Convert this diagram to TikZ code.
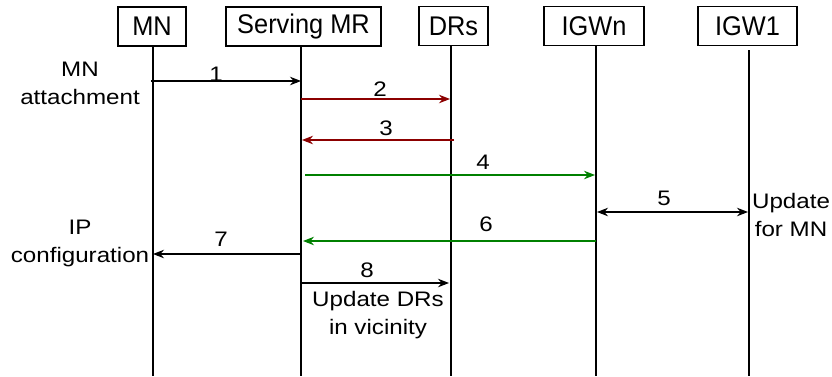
\documentclass[tikz,border=0pt]{standalone}
\usepackage{fontspec}
\setmainfont{Liberation Sans}
\newfontfamily\boxfont[FakeStretch=0.94]{Liberation Sans}
\newfontfamily\lblfont[FakeStretch=1.15]{Liberation Sans}
\usetikzlibrary{arrows.meta}
\definecolor{dred}{RGB}{140,0,0}
\definecolor{dgreen}{RGB}{0,128,0}
\begin{document}
\begin{tikzpicture}[x=1pt,y=-1pt,
  actor/.style={draw, line width=1.3pt, minimum height=39pt, inner sep=0pt,
    font=\boxfont\fontsize{27}{28}\selectfont},
  life/.style={line width=1.3pt},
  msg/.style={line width=1.1pt, -{Stealth[length=11pt,width=8.5pt]}},
  dmsg/.style={line width=1.1pt, {Stealth[length=11pt,width=8.5pt]}-{Stealth[length=11pt,width=8.5pt]}},
  lbl/.style={font=\lblfont\fontsize{21}{28}\selectfont, align=center, inner sep=0pt},
  num/.style={font=\lblfont\fontsize{21}{28}\selectfont, inner sep=0pt},
]
\useasboundingbox (0,0) rectangle (832,376);
% actors
\node[actor, minimum width=68pt]  (mn)   at (152,26.5)   {MN};
\node[actor, minimum width=155pt] (mr)   at (303.5,26.5) {Serving MR};
\node[actor, minimum width=69pt]  (dr)   at (453.5,26)   {DRs};
\node[actor, minimum width=100pt] (igwn) at (594,26)     {IGWn};
\node[actor, minimum width=99pt]  (igw1) at (747.5,26)   {IGW1};
% lifelines
\coordinate (mnT) at (153,46);   \coordinate (mnB) at (153,376);
\coordinate (mrT) at (301,46);   \coordinate (mrB) at (301,376);
\coordinate (drT) at (451,45);   \coordinate (drB) at (451,376);
\coordinate (gnT) at (596,45);   \coordinate (gnB) at (596,376);
\coordinate (g1T) at (749,50);   \coordinate (g1B) at (749,376);
\draw[life] (mnT) -- (mnB);
\draw[life] (mrT) -- (mrB);
\draw[life] (drT) -- (drB);
\draw[life] (gnT) -- (gnB);
\draw[life] (g1T) -- (g1B);
% messages
\draw[msg] ([xshift=-2pt]mnT |- 0,81) -- (mrT |- 0,81);
\draw[msg, dred] (mrT |- 0,99) -- ([xshift=-1pt]drT |- 0,99);
\draw[msg, dred] ([xshift=3pt]drT |- 0,140) -- ([xshift=1pt]mrT |- 0,140);
\draw[msg, dgreen] ([xshift=4pt]mrT |- 0,175) -- ([xshift=-1pt]gnT |- 0,175);
\draw[dmsg] ([xshift=1pt]gnT |- 0,212) -- ([xshift=-1pt]g1T |- 0,212);
\draw[msg, dgreen] (gnT |- 0,241) -- ([xshift=2pt]mrT |- 0,241);
\draw[msg] (mrT |- 0,254) -- (mnT |- 0,254);
\draw[msg] (mrT |- 0,283) -- ([xshift=-2pt]drT |- 0,283);
% numbers
\node[num] (n1) at (216,74)  {1};
\node[num] (n2) at (380,89)  {2};
\node[num] (n3) at (386,128) {3};
\node[num] (n4) at (483,162) {4};
\node[num] (n5) at (664,198) {5};
\node[num] (n6) at (486,224) {6};
\node[num] (n7) at (221,239) {7};
\node[num] (n8) at (367,270) {8};
% side texts
\node[lbl, anchor=north] (att) at (80,62)  {MN\\attachment};
\node[lbl, anchor=north] (ipc) at (80,220) {IP\\configuration};
\node[lbl, anchor=north] (upd) at (378,291) {Update DRs\\in vicinity};
\node[lbl, anchor=north] (ufm) at (791,193) {Update\\for MN};
\end{tikzpicture}
\end{document}
